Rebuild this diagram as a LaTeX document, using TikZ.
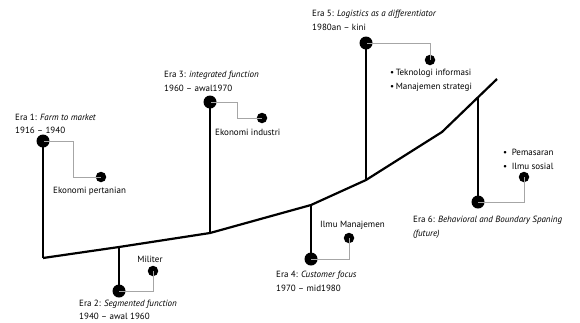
\documentclass[tikz,border=0pt]{standalone}
\usepackage{fontspec}
\setmainfont{PT Sans}
\begin{document}
\begin{tikzpicture}[x=1pt,y=-1pt,
  bigdot/.style={circle,fill=black,inner sep=0pt,minimum width=13pt,minimum height=12pt},
  smalldot/.style={circle,fill=black,inner sep=0pt,minimum size=10.5pt},
  mainline/.style={line width=2.2pt},
  stem/.style={line width=1.4pt},
  branch/.style={draw=black!35,line width=0.8pt},
  lbl/.style={anchor=west,inner sep=0pt,font=\fontsize{9}{10}\selectfont},
  junc/.style={inner sep=0pt,minimum size=0pt}]
\useasboundingbox (0,0) rectangle (580,322);
% main curve junctions
\coordinate (p0) at (43,258);
\coordinate (p2) at (119,247);
\coordinate (p3) at (210,233);
\coordinate (p4) at (311,205);
\coordinate (p5) at (366,180);
\coordinate (p6) at (442,132);
\coordinate (p7) at (497,79);
\coordinate (j6) at (478,97);
\draw[mainline,line join=round] (p0) -- (p2) -- (p3) -- (p4) -- (p5) -- (p6) -- (p7);
% Era 1
\node[bigdot] (e1) at (43,141) {};
\node[smalldot] (s1) at (101,177) {};
\draw[branch] (e1.center) -| (73,177) -- (s1.center);
\draw[stem] (e1.center) -- (p0);
\node[lbl] (t1a) at (15,117) {Era 1: \textit{Farm to market}};
\node[lbl] (t1b) at (15,130) {1916 – 1940};
\node[lbl] (k1) at (53,191) {Ekonomi pertanian};
% Era 2
\node[bigdot] (e2) at (119,291) {};
\node[smalldot] (s2) at (153,271) {};
\draw[branch] (e2.center) -| (s2.center);
\draw[stem] (p2) -- (e2.center);
\node[lbl] (t2a) at (79,304) {Era 2: \textit{Segmented function}};
\node[lbl] (t2b) at (79,316) {1940 – awal 1960};
\node[lbl,anchor=center] (k2) at (150,259) {Militer};
% Era 3
\node[bigdot] (e3) at (210,102) {};
\node[smalldot] (s3) at (262,118) {};
\draw[branch] (e3.center) -| (237,118) -- (s3.center);
\draw[stem] (e3.center) -- (p3);
\node[lbl] (t3a) at (164,75) {Era 3: \textit{integrated function}};
\node[lbl] (t3b) at (164,88) {1960 – awal1970};
\node[lbl] (k3) at (215,132) {Ekonomi industri};
% Era 4
\node[bigdot] (e4) at (311,259) {};
\node[smalldot] (s4) at (349,238) {};
\draw[branch] (e4.center) -| (s4.center);
\draw[stem] (p4) -- (e4.center);
\node[lbl] (t4a) at (276,275) {Era 4: \textit{Customer focus}};
\node[lbl] (t4b) at (276,288) {1970 – mid1980};
\node[lbl] (k4) at (320,225) {Ilmu Manajemen};
% Era 5
\node[bigdot] (e5) at (366,43) {};
\node[smalldot] (s5) at (430,60) {};
\draw[branch] (e5.center) -| (s5.center);
\draw[stem] (e5.center) -- (p5);
\node[lbl] (t5a) at (312,14) {Era 5: \textit{Logistics as a differentiator}};
\node[lbl] (t5b) at (312,27) {1980an – kini};
\node[lbl] (k5a) at (390,73) {\textbullet\,Teknologi informasi};
\node[lbl] (k5b) at (390,87) {\textbullet\,Manajemen strategi};
% Era 6
\node[bigdot] (e6) at (478,202) {};
\node[smalldot] (s6) at (524,177) {};
\draw[branch] (e6.center) -| (s6.center);
\draw[stem] (j6) -- (e6.center);
\node[lbl] (t6a) at (413,220) {Era 6: \textit{Behavioral and Boundary Spaning}};
\node[lbl] (t6b) at (413,234) {\textit{(future)}};
\node[lbl] (k6a) at (503,152) {•\enspace Pemasaran};
\node[lbl] (k6b) at (503,166) {•\enspace Ilmu sosial};
\end{tikzpicture}
\end{document}
